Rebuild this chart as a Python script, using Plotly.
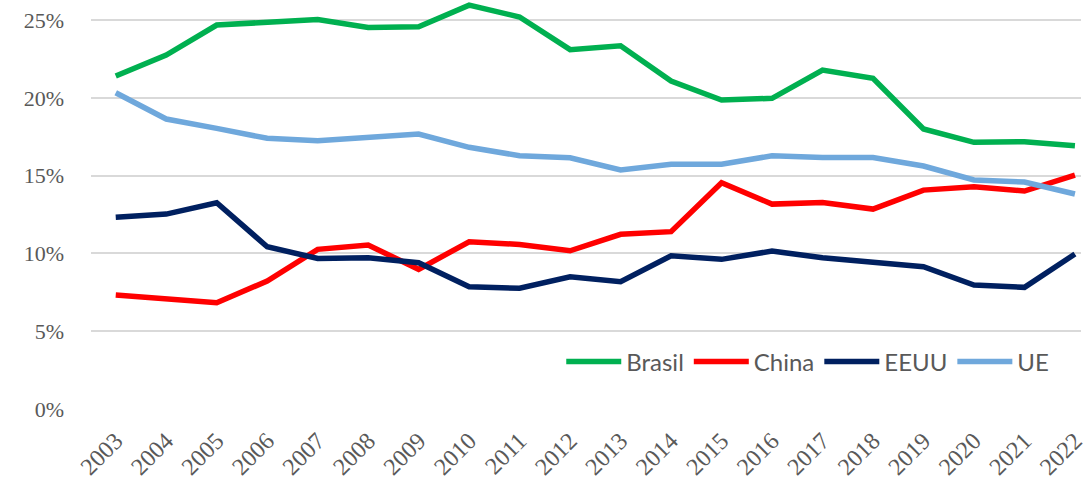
import plotly.graph_objects as go

years = [str(y) for y in range(2003, 2023)]
brasil = [21.4, 22.75, 24.68, 24.83, 25.04, 24.53, 24.57, 25.96, 25.2, 23.1,
          23.35, 21.08, 19.86, 19.97, 21.79, 21.25, 18.0, 17.14, 17.18, 16.92]
china = [7.33, 7.11, 6.83, 8.23, 10.26, 10.54, 8.98, 10.75, 10.58, 10.17,
         11.23, 11.4, 14.54, 13.17, 13.28, 12.85, 14.07, 14.29, 14.01, 15.04]
eeuu = [12.32, 12.53, 13.26, 10.43, 9.68, 9.72, 9.4, 7.86, 7.76, 8.5,
        8.18, 9.85, 9.62, 10.15, 9.72, 9.47, 9.15, 7.97, 7.82, 9.96]
ue = [20.33, 18.64, 18.04, 17.4, 17.25, 17.46, 17.67, 16.82, 16.28, 16.15,
      15.36, 15.73, 15.73, 16.28, 16.17, 16.17, 15.62, 14.72, 14.59, 13.82]

series = [
    ("Brasil", brasil, "#00B050"),
    ("China", china, "#FF0000"),
    ("EEUU", eeuu, "#002060"),
    ("UE", ue, "#6FA8DC"),
]
yticks = [0, 5, 10, 15, 20, 25]
yticklabels = [f"{v}%" for v in yticks]

fig = go.Figure()
for name, vals, col in series:
    fig.add_trace(go.Scatter(
        x=list(range(len(years))), y=vals, name=name, mode="lines",
        line=dict(color=col, width=5.5), cliponaxis=False,
    ))

fig.update_layout(
    width=1087, height=489,
    margin=dict(l=91, r=0, t=0, b=80),
    plot_bgcolor="white", paper_bgcolor="white",
    showlegend=True,
    legend=dict(
        orientation="h", x=0.475, y=0.115, xanchor="left", yanchor="middle",
        font=dict(family="Lato", size=24, color="#595959"),
        itemwidth=55, tracegroupgap=0, bgcolor="rgba(0,0,0,0)",
    ),
    xaxis=dict(
        tickmode="array", tickvals=list(range(len(years))), ticktext=years,
        range=[-0.49, 19.12], tickangle=-45, showgrid=False, zeroline=False,
        showline=False, ticks="", ticklabelstandoff=12, ticklabeloverflow="allow",
        tickfont=dict(family="Liberation Serif", size=24, color="#595959"),
    ),
    yaxis=dict(
        range=[0, 26.29], tickmode="array", tickvals=yticks, ticktext=yticklabels,
        showgrid=True, gridcolor="#D9D9D9", gridwidth=1.5, zeroline=False,
        showline=False, ticks="", ticklabelstandoff=26,
        tickfont=dict(family="Liberation Serif", size=22, color="#595959"),
    ),
)

fig.write_html("out.html", config={"displayModeBar": False},
               post_script="document.body.style.margin='0';")
